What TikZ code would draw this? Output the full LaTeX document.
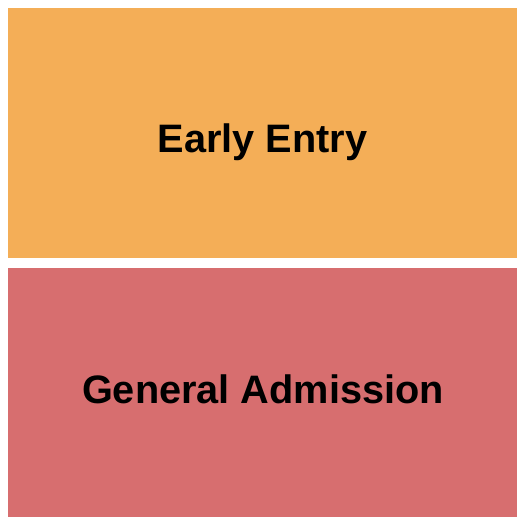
\documentclass[tikz,border=0pt]{standalone}
\usepackage{fontspec}
\setmainfont{Liberation Sans}
\definecolor{early}{HTML}{F4AE57}
\definecolor{gen}{HTML}{D76E6F}
\begin{document}
\begin{tikzpicture}[x=1pt,y=-1pt,
  zone/.style={draw=none,inner sep=0pt,anchor=north west},
  lbl/.style={font=\bfseries\fontsize{39.7}{44}\selectfont,text=black,anchor=base,inner sep=0pt}]
\useasboundingbox (0,0) rectangle (525,525);
\fill[white] (0,0) rectangle (525,525);
\node[zone,fill=early,minimum width=509pt,minimum height=250pt] (ee) at (8,8) {};
\node[zone,fill=gen,minimum width=509pt,minimum height=249pt] (ga) at (8,268) {};
\node[lbl] (eet) at (262.5,152.5) {Early Entry};
\node[lbl] (gat) at (263,403.5) {General Admission};
\end{tikzpicture}
\end{document}
